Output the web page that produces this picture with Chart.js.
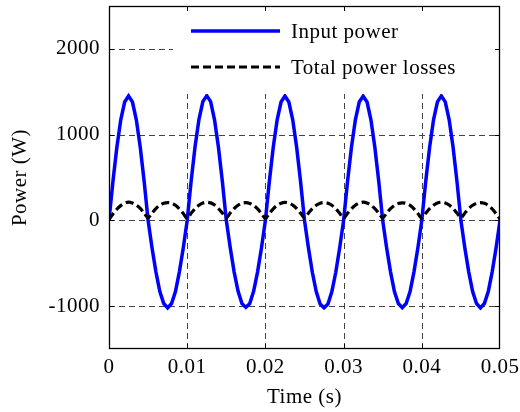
<!DOCTYPE html>
<html><head><meta charset="utf-8">
<script src="https://cdn.jsdelivr.net/npm/chart.js@4"></script>
<style>html,body{margin:0;padding:0;background:#fff}#wrap{width:520px;height:412px;position:relative}</style>
</head><body><div id="wrap"><canvas id="c" width="520" height="412"></canvas></div>
<script>
const time = [0,0.0005,0.001,0.0015,0.002,0.0025,0.003,0.0035,0.004,0.0045,
0.005,0.0055,0.006,0.0065,0.007,0.0075,0.008,0.0085,0.009,0.0095,
0.01,0.0105,0.011,0.0115,0.012,0.0125,0.013,0.0135,0.014,0.0145,
0.015,0.0155,0.016,0.0165,0.017,0.0175,0.018,0.0185,0.019,0.0195,
0.02,0.0205,0.021,0.0215,0.022,0.0225,0.023,0.0235,0.024,0.0245,
0.025,0.0255,0.026,0.0265,0.027,0.0275,0.028,0.0285,0.029,0.0295,
0.03,0.0305,0.031,0.0315,0.032,0.0325,0.033,0.0335,0.034,0.0345,
0.035,0.0355,0.036,0.0365,0.037,0.0375,0.038,0.0385,0.039,0.0395,
0.04,0.0405,0.041,0.0415,0.042,0.0425,0.043,0.0435,0.044,0.0445,
0.045,0.0455,0.046,0.0465,0.047,0.0475,0.048,0.0485,0.049,0.0495,
0.05];
const inputPower = [0,450,850,1170,1380,1450,1380,1170,850,450,
0,-320,-600,-830,-970,-1020,-970,-830,-600,-320,
0,455,855,1175,1385,1455,1385,1170,850,450,
0,-315,-600,-825,-970,-1015,-970,-825,-600,-320,
0,450,850,1170,1380,1450,1380,1170,850,450,
0,-320,-605,-830,-975,-1020,-975,-830,-605,-320,
0,450,850,1170,1380,1448,1380,1170,850,450,
0,-320,-600,-830,-970,-1018,-970,-830,-600,-320,
0,452,852,1172,1382,1452,1382,1172,852,452,
0,-320,-600,-830,-970,-1020,-970,-830,-600,-320,
0];
const totalLosses = [10,75,130,172,200,212,202,178,140,85,
30,85,138,178,200,208,200,176,135,80,
25,82,136,176,202,212,204,180,138,85,
30,85,138,176,200,206,198,175,133,80,
25,80,135,176,200,210,202,178,137,84,
30,84,137,176,200,208,200,176,135,82,
25,82,136,177,202,212,203,178,136,84,
30,84,136,175,198,205,198,175,134,80,
25,82,136,176,202,212,204,179,138,85,
30,84,137,176,200,208,199,175,133,78,
15];
const xTicks = [0,0.01,0.02,0.03,0.04,0.05];
const yTicks = [-1000,0,1000,2000];
const seriesLabels = ['Input power','Total power losses'];
const xTitle = 'Time (s)';
const yTitle = 'Power (W)';

const FONT = {family:'"Liberation Serif", "Times New Roman", serif', size:21};

const deco = {
  id:'deco',
  beforeUpdate(chart){ chart.ctx.letterSpacing = '0.5px'; },
  beforeDraw(chart){ chart.ctx.letterSpacing = '0.5px'; },
  beforeDatasetsDraw(chart){
    const {ctx, chartArea:a, scales:{x,y}} = chart;
    ctx.save();
    ctx.strokeStyle = '#444'; ctx.lineWidth = 1; ctx.setLineDash([6,4]);
    xTicks.forEach(v=>{ if(v<=x.min||v>=x.max) return; const px=Math.round(x.getPixelForValue(v))+0.5;
      ctx.beginPath(); ctx.moveTo(px,a.bottom); ctx.lineTo(px,a.top); ctx.stroke(); });
    yTicks.forEach(v=>{ const py=Math.round(y.getPixelForValue(v))+0.5;
      ctx.beginPath(); ctx.moveTo(a.left,py); ctx.lineTo(a.right,py); ctx.stroke(); });
    ctx.restore();
  },
  afterDatasetsDraw(chart){
    const {ctx, chartArea:a, scales:{x,y}} = chart;
    ctx.save();
    // legend
    const lx0 = 173, ly0 = a.top+1, lx1 = a.right-1, ly1 = 94;
    ctx.fillStyle = '#fff'; ctx.fillRect(lx0, ly0, lx1-lx0, ly1-ly0);
    const ds = chart.data.datasets;
    const rows = [{y:31, d:ds[0]}, {y:67, d:ds[1]}];
    rows.forEach(r=>{
      ctx.save();
      ctx.strokeStyle = r.d.borderColor; ctx.lineWidth = r.d.borderWidth;
      ctx.setLineDash(r.d.borderDash || []);
      ctx.beginPath(); ctx.moveTo(191, r.y); ctx.lineTo(280, r.y); ctx.stroke();
      ctx.restore();
      ctx.fillStyle = '#000'; ctx.font = FONT.size+'px '+FONT.family;
      ctx.textBaseline = 'middle'; ctx.textAlign = 'left';
      ctx.fillText(r.d.label, 291, r.y+1);
    });
    // frame
    ctx.strokeStyle = '#000'; ctx.lineWidth = 1.3; ctx.setLineDash([]);
    ctx.strokeRect(a.left+0.5, a.top+0.5, a.right-a.left-1, a.bottom-a.top-1);
    ctx.lineWidth = 1;
    const tl = 5;
    xTicks.forEach(v=>{ if(v<=x.min||v>=x.max) return; const px=Math.round(x.getPixelForValue(v))+0.5;
      ctx.beginPath(); ctx.moveTo(px,a.bottom); ctx.lineTo(px,a.bottom-tl);
      ctx.moveTo(px,a.top); ctx.lineTo(px,a.top+tl); ctx.stroke(); });
    yTicks.forEach(v=>{ const py=Math.round(y.getPixelForValue(v))+0.5;
      ctx.beginPath(); ctx.moveTo(a.left,py); ctx.lineTo(a.left+tl,py);
      ctx.moveTo(a.right,py); ctx.lineTo(a.right-tl,py); ctx.stroke(); });
    ctx.restore();
  }
};

new Chart(document.getElementById('c'), {
  type:'line',
  data:{ datasets:[
    {label:seriesLabels[0], data:time.map((t,i)=>({x:t,y:inputPower[i]})), borderColor:'#0000ff', borderWidth:3.5, pointRadius:0, tension:0, fill:false, order:1},
    {label:seriesLabels[1], data:time.map((t,i)=>({x:t,y:totalLosses[i]})), borderColor:'#000000', borderWidth:3.2, borderDash:[8,4], pointRadius:0, tension:0.3, fill:false, order:0}
  ]},
  options:{
    responsive:false, devicePixelRatio:1, animation:false,
    layout:{padding:{top:6,right:20,left:0,bottom:0}},
    plugins:{legend:{display:false}, tooltip:{enabled:false}},
    scales:{
      x:{type:'linear', min:0, max:0.05,
        afterBuildTicks:s=>{s.ticks = xTicks.map(v=>({value:v}));},
        afterFit:s=>{s.height = 63; s.paddingLeft = 0; s.paddingRight = 0;},
        grid:{display:false, drawTicks:false}, border:{display:false},
        ticks:{font:FONT, color:'#000', padding:6, maxRotation:0, autoSkip:false,
          callback:v=> v===0 ? '0' : Number(v).toFixed(2)},
        title:{display:true, text:xTitle, font:FONT, color:'#000', padding:{top:0,bottom:2}}
      },
      y:{type:'linear', min:-1500, max:2500,
        afterBuildTicks:s=>{s.ticks = yTicks.map(v=>({value:v}));},
        afterFit:s=>{s.width = 109; s.paddingTop = 0; s.paddingBottom = 0;},
        grid:{display:false, drawTicks:false}, border:{display:false},
        ticks:{font:FONT, color:'#000', padding:9, autoSkip:false, callback:v=>String(v)},
        title:{display:true, text:yTitle, font:FONT, color:'#000', padding:{top:8,bottom:0}}
      }
    }
  },
  plugins:[deco]
});
</script></body></html>
